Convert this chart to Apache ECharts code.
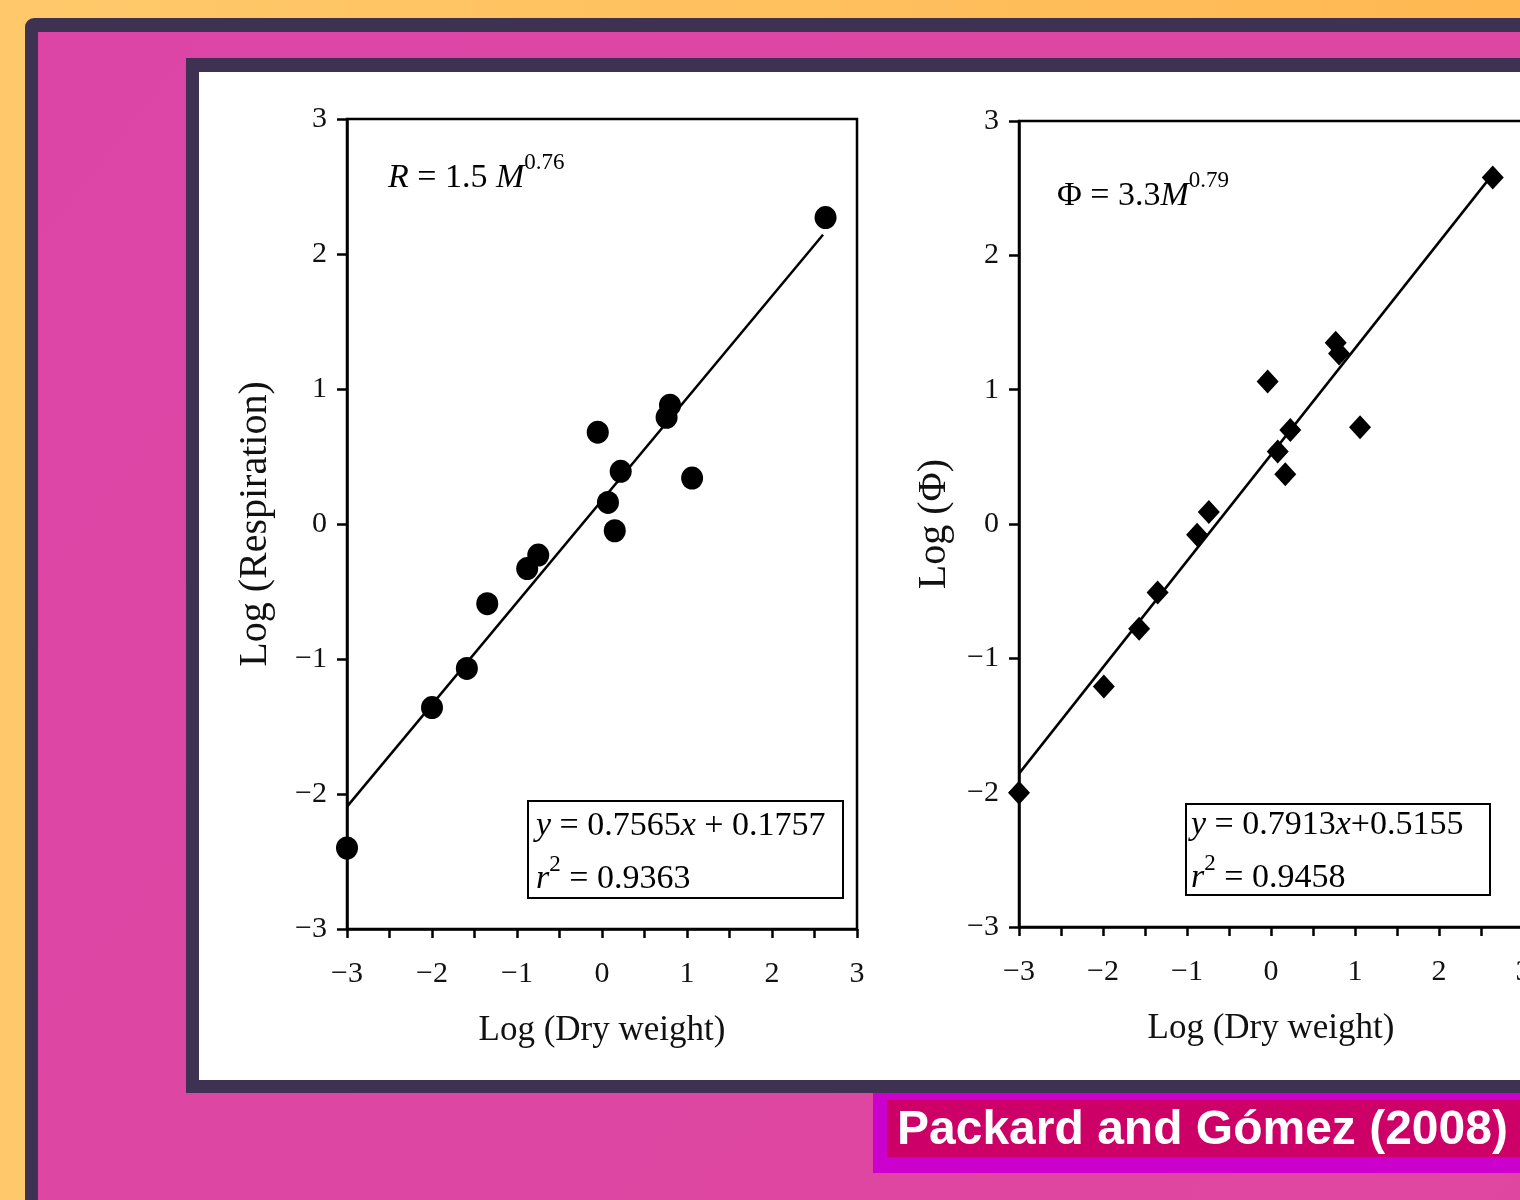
<!DOCTYPE html>
<html>
<head>
<meta charset="utf-8">
<script src="https://cdn.jsdelivr.net/npm/echarts@6/dist/echarts.min.js"></script>
<style>
html, body { margin: 0; padding: 0; background: #ffc466; }
#main { width: 1520px; height: 1200px; }
</style>
</head>
<body>
<div id="main"></div>
<script>
// left panel: respiration
var resX = [-3.0, -2.0, -1.59, -1.35, -0.88, -0.75, -0.05, 0.07, 0.15, 0.22, 0.76, 0.80, 1.06, 2.63];
var resY = [-2.40, -1.36, -1.07, -0.59, -0.33, -0.23, 0.68, 0.16, -0.05, 0.39, 0.79, 0.88, 0.34, 2.27];
var resFit = [0.7565, 0.1757];     // slope, intercept
var resFitRange = [-3, 2.6];

// right panel: Phi
var phiX = [-3.0, -1.99, -1.57, -1.35, -0.88, -0.74, -0.04, 0.08, 0.17, 0.23, 0.77, 0.81, 1.06, 2.64];
var phiY = [-2.0, -1.21, -0.78, -0.51, -0.08, 0.09, 1.06, 0.54, 0.37, 0.70, 1.35, 1.27, 0.72, 2.58];
var phiFit = [0.7913, 0.5155];
var phiFitRange = [-3, 2.64];

var axisTicks = [-3, -2, -1, 0, 1, 2, 3];

var serif = '"Liberation Serif", "DejaVu Serif", serif';

function pairs(xs, ys) {
	return xs.map(function (x, i) { return [x, ys[i]]; });
}
function fitLine(fit, range) {
	return range.map(function (x) { return [x, fit[0] * x + fit[1]]; });
}
function tickFmt(v) {
	return v < 0 ? '\u2212' + Math.abs(v) : String(v);
}

function xAxisOf(idx) {
	return {
		gridIndex: idx,
		type: 'value',
		min: axisTicks[0], max: axisTicks[axisTicks.length - 1], interval: 1,
		name: 'Log (Dry weight)',
		nameLocation: 'middle',
		nameGap: 84,
		nameTextStyle: { fontFamily: serif, fontSize: 35, color: '#111' },
		axisLine: { onZero: false, lineStyle: { color: '#000', width: 2.5 } },
		axisTick: { length: 9, lineStyle: { color: '#000', width: 2.5 } },
		minorTick: { show: true, splitNumber: 2, length: 9, lineStyle: { color: '#000', width: 2.5 } },
		axisLabel: { formatter: tickFmt, fontFamily: serif, fontSize: 30, color: '#111', margin: 30 },
		splitLine: { show: false }
	};
}
function yAxisOf(idx, name, gap) {
	return {
		gridIndex: idx,
		type: 'value',
		min: axisTicks[0], max: axisTicks[axisTicks.length - 1], interval: 1,
		name: name,
		nameLocation: 'middle',
		nameGap: gap,
		nameTextStyle: { fontFamily: serif, fontSize: 40, color: '#111' },
		axisLine: { onZero: false, lineStyle: { color: '#000', width: 2.5 } },
		axisTick: { length: 10, lineStyle: { color: '#000', width: 2.5 } },
		axisLabel: { formatter: tickFmt, fontFamily: serif, fontSize: 30, color: '#111', margin: 20 },
		splitLine: { show: false }
	};
}

var richEq = {
	n: { fontFamily: serif, fontSize: 34, color: '#111', lineHeight: 53 },
	i: { fontFamily: serif, fontSize: 34, color: '#111', fontStyle: 'italic', lineHeight: 53 },
	sup: { fontFamily: serif, fontSize: 23, color: '#111', verticalAlign: 'top', lineHeight: 40 }
};

var myChart = echarts.init(document.getElementById('main'));
var option = {
	animation: false,
	graphic: [
		{ type: 'rect', z: -100, shape: { x: 0, y: 0, width: 1520, height: 1200 },
		  style: { fill: new echarts.graphic.LinearGradient(0, 0, 1, 0, [{ offset: 0, color: '#ffc96b' }, { offset: 1, color: '#ffb852' }]) } },
		{ type: 'rect', z: -99, shape: { x: 25, y: 18, width: 1560, height: 1240, r: 9 }, style: { fill: '#3f3151' } },
		{ type: 'rect', z: -98, shape: { x: 38, y: 32, width: 1560, height: 1240 },
		  style: { fill: new echarts.graphic.LinearGradient(0, 0, 1, 1, [{ offset: 0, color: '#dc45a6' }, { offset: 1, color: '#df479f' }]) } },
		{ type: 'rect', z: -97, shape: { x: 186, y: 58, width: 1400, height: 1035 }, style: { fill: '#3f3151' } },
		{ type: 'rect', z: -96, shape: { x: 199, y: 72, width: 1400, height: 1008 }, style: { fill: '#ffffff' } },
		{ type: 'rect', z: -95, shape: { x: 873, y: 1093, width: 700, height: 80 }, style: { fill: '#cc00cc' } },
		{ type: 'rect', z: -94, shape: { x: 887, y: 1100, width: 700, height: 57 }, style: { fill: '#cc0066' } },
		{ type: 'text', z: 10, x: 897, y: 1131,
		  style: { text: 'Packard and Gómez (2008)', fill: '#ffffff', font: 'bold 48px "Liberation Sans", Arial, sans-serif', verticalAlign: 'middle' } },

		// power-law labels
		{ type: 'text', z: 10, x: 388, y: 178,
		  style: { text: '{i|R}{n| = 1.5 }{i|M}{sup|0.76}', rich: richEq, verticalAlign: 'middle' } },
		{ type: 'text', z: 10, x: 1057, y: 196,
		  style: { text: '{n|\u03a6 = 3.3}{i|M}{sup|0.79}', rich: richEq, verticalAlign: 'middle' } },

		// regression boxes
		{ type: 'rect', z: 10, shape: { x: 528, y: 801, width: 315, height: 97 }, style: { fill: '#fff', stroke: '#000', lineWidth: 2 } },
		{ type: 'text', z: 11, x: 536, y: 853,
		  style: { text: '{i|y}{n| = 0.7565}{i|x}{n| + 0.1757}\n{i|r}{sup|2}{n| = 0.9363}', rich: richEq, verticalAlign: 'middle' } },
		{ type: 'rect', z: 10, shape: { x: 1186, y: 804, width: 304, height: 91 }, style: { fill: '#fff', stroke: '#000', lineWidth: 2 } },
		{ type: 'text', z: 11, x: 1191, y: 852,
		  style: { text: '{i|y}{n| = 0.7913}{i|x}{n|+0.5155}\n{i|r}{sup|2}{n| = 0.9458}', rich: richEq, verticalAlign: 'middle' } }
	],
	grid: [
		{ left: 347, top: 119, width: 510, height: 810, show: true, borderColor: '#000', borderWidth: 2.5,
		  backgroundColor: 'transparent', outerBoundsMode: 'none' },
		{ left: 1019, top: 121, width: 504, height: 806, show: true, borderColor: '#000', borderWidth: 2.5,
		  backgroundColor: 'transparent', outerBoundsMode: 'none' }
	],
	xAxis: [xAxisOf(0), xAxisOf(1)],
	yAxis: [yAxisOf(0, 'Log (Respiration)', 72), yAxisOf(1, 'Log (\u03a6)', 65)],
	series: [
		{ type: 'line', xAxisIndex: 0, yAxisIndex: 0, data: fitLine(resFit, resFitRange), showSymbol: false,
		  lineStyle: { color: '#000', width: 2.5 }, z: 3 },
		{ type: 'scatter', xAxisIndex: 0, yAxisIndex: 0, data: pairs(resX, resY), symbol: 'circle', symbolSize: [22, 23],
		  itemStyle: { color: '#000', opacity: 1 }, z: 4 },
		{ type: 'line', xAxisIndex: 1, yAxisIndex: 1, data: fitLine(phiFit, phiFitRange), showSymbol: false,
		  lineStyle: { color: '#000', width: 2.5 }, z: 3 },
		{ type: 'scatter', xAxisIndex: 1, yAxisIndex: 1, data: pairs(phiX, phiY), symbol: 'diamond', symbolSize: [22, 24],
		  itemStyle: { color: '#000', opacity: 1 }, z: 4 }
	]
};
myChart.setOption(option);
</script>
</body>
</html>
